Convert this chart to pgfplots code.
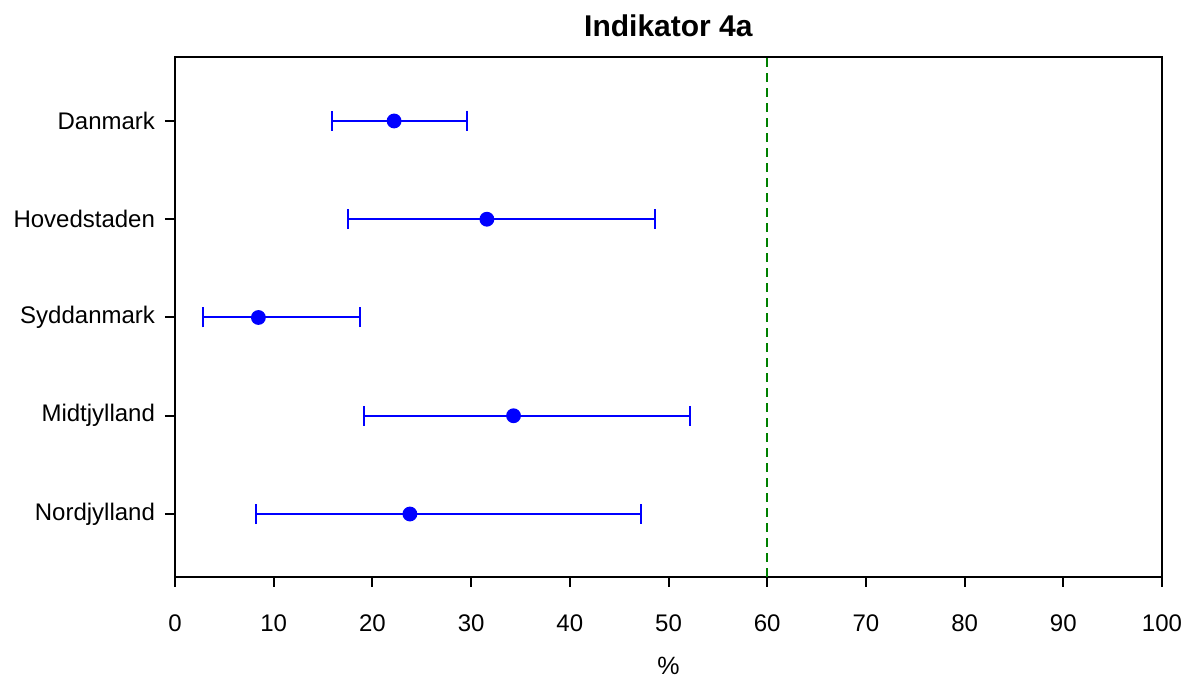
\documentclass[border=0pt]{standalone}
\usepackage{pgfplots}
\pgfplotsset{compat=1.18}
\usepackage{pgfplotstable}
\usepackage{fontspec}
\setmainfont{Liberation Sans}
\definecolor{refblue}{RGB}{0,0,255}
\definecolor{refgreen}{RGB}{0,128,0}
\pgfplotstableread{
y x minus plus
5 22.2 6.3 7.4
4 31.6 14.1 17.0
3 8.45 5.65 10.25
2 34.3 15.2 17.9
1 23.8 15.6 23.4
}\datatable
\begin{document}
\begin{tikzpicture}
\path[use as bounding box] (-87.5bp,-51.5bp) rectangle (510bp,288.5bp);
\begin{axis}[
  at={(0,0)}, anchor=south west,
  scale only axis,
  width=493.5bp, height=260bp,
  xmin=0, xmax=100,
  ymin=0.359, ymax=5.651,
  xtick={0,10,...,100},
  ytick={1,2,3,4,5},
  yticklabels={Nordjylland,Midtjylland,Syddanmark,Hovedstaden,Danmark},
  xtick pos=bottom, ytick pos=left,
  tick align=outside,
  major tick length=5bp,
  axis line style={line width=1bp},
  every tick/.style={black, line width=1bp},
  /pgf/number format/assume math mode=true,
  tick label style={font=\fontsize{12bp}{14bp}\selectfont},
  xticklabel style={yshift=-10.5bp},
  yticklabel style={xshift=-1.5bp},
  title={\textbf{Indikator 4a}},
  title style={at={(axis description cs:0.5,1)}, anchor=base, yshift=4.5bp, font=\fontsize{15bp}{18bp}\selectfont},
  xlabel={\%},
  xlabel style={at={(axis description cs:0.5,0)}, anchor=base, yshift=-48.5bp, font=\fontsize{12.5bp}{15bp}\selectfont},
  clip=false,
]
\addplot[refgreen, line width=0.8bp, dash pattern=on 4.5bp off 3bp] coordinates {(60,0.359) (60,5.651)};
\addplot[refblue, line width=1bp, only marks, mark=*, mark size=3.2bp,
  mark options={fill=refblue, draw=refblue},
  error bars/.cd, x dir=both, x explicit,
  error mark=|, error mark options={refblue, mark size=5bp, line width=1bp},
  error bar style={refblue, line width=1bp}]
  table[x=x, y=y, x error minus=minus, x error plus=plus] {\datatable};
\end{axis}
\end{tikzpicture}
\end{document}
